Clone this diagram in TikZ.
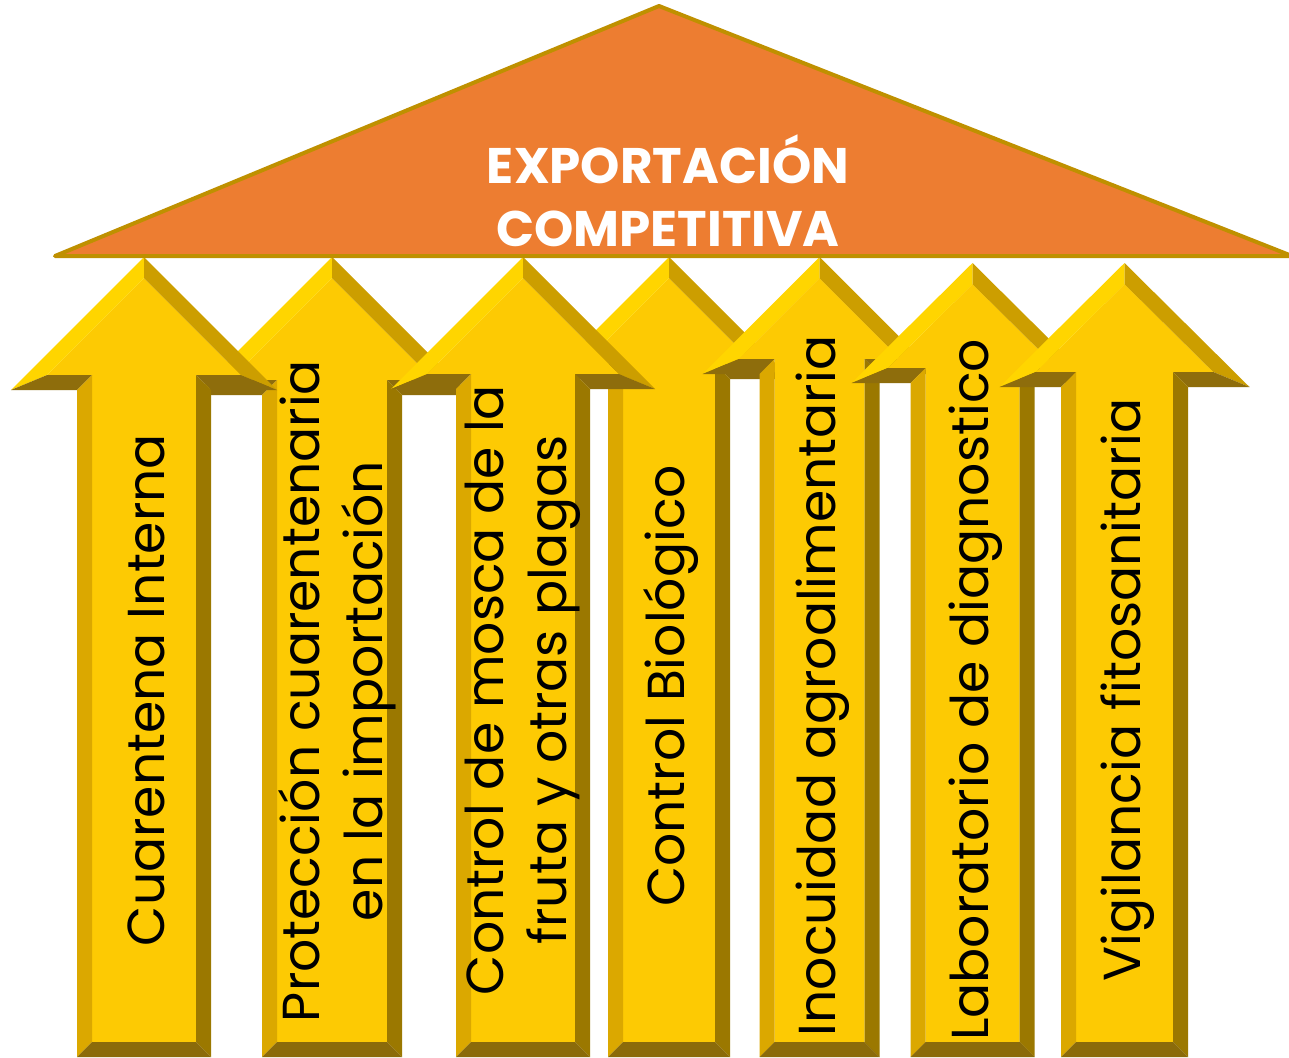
\documentclass[tikz,border=0pt]{standalone}
\usepackage{fontspec}
\newfontfamily\pop{Poppins}
\definecolor{roof}{HTML}{ED7D31}
\definecolor{roofline}{HTML}{BF9000}
\definecolor{aface}{HTML}{FDCA03}
\definecolor{ahl}{HTML}{FFD500}
\definecolor{ahr}{HTML}{CC9E00}
\definecolor{awing}{HTML}{8E6D0C}
\definecolor{asl}{HTML}{DBA800}
\definecolor{asr}{HTML}{9B7800}
\definecolor{abot}{HTML}{8B6B0A}
\newcommand\bevarrow[5]{%
\pgfmathsetmacro\xl{#1-#2}\pgfmathsetmacro\xr{#1+#2}%
\pgfmathsetmacro\hl{#1-#3}\pgfmathsetmacro\hr{#1+#3}%
\pgfmathsetmacro\ixl{#1-#2+15}\pgfmathsetmacro\ixr{#1+#2-15}%
\pgfmathsetmacro\ihl{#1-#3+36.2}\pgfmathsetmacro\ihr{#1+#3-36.2}%
\pgfmathsetmacro\it{#4+21.2}\pgfmathsetmacro\ib{#5-15}%
\fill[aface] (#1,\it) -- (\ihr,\ib) -- (\ixr,\ib) -- (\ixr,1042) -- (\ixl,1042) -- (\ixl,\ib) -- (\ihl,\ib) -- cycle;
\fill[ahl] (\hl,#5) -- (#1,#4) -- (#1,\it) -- (\ihl,\ib) -- cycle;
\fill[ahr] (#1,#4) -- (\hr,#5) -- (\ihr,\ib) -- (#1,\it) -- cycle;
\fill[awing] (\hl,#5) -- (\xl,#5) -- (\ixl,\ib) -- (\ihl,\ib) -- cycle;
\fill[awing] (\hr,#5) -- (\xr,#5) -- (\ixr,\ib) -- (\ihr,\ib) -- cycle;
\fill[asl] (\xl,#5) -- (\xl,1057) -- (\ixl,1042) -- (\ixl,\ib) -- cycle;
\fill[asr] (\xr,#5) -- (\xr,1057) -- (\ixr,1042) -- (\ixr,\ib) -- cycle;
\fill[abot] (\xl,1057) -- (\xr,1057) -- (\ixr,1042) -- (\ixl,1042) -- cycle;
}
\tikzset{
  lbl/.style={rotate=90, font=\pop\fontsize{52}{63}\selectfont, text=black, align=center, inner sep=0pt},
  ttl/.style={font=\pop\bfseries\fontsize{50}{63}\selectfont, text=white, align=center, inner sep=0pt}
}
\begin{document}
\begin{tikzpicture}[x=1pt,y=-1pt]
\useasboundingbox (0,0) rectangle (1289,1057);
\fill[white] (0,0) rectangle (1289,1057);
% arrows (drawing order for overlaps)
\bevarrow{332}{70}{138}{257}{395}
\bevarrow{669}{61}{122}{257}{379}
\bevarrow{144}{67}{133}{257}{390}
\bevarrow{523}{67}{132}{257}{389}
\bevarrow{819.5}{60}{117}{257}{374}
\bevarrow{972.5}{62}{121}{263}{383}
\bevarrow{1124.5}{63.5}{125}{263}{387}
% roof
\draw[roofline, fill=roof, line width=4pt, line join=round, line cap=round] (55,256) -- (659,6) -- (1292,256) -- cycle;
\node[ttl] (title) at (668,191) {EXPORTACIÓN\\COMPETITIVA};
% labels
\node[lbl] (t1) at (146,690) {Cuarentena Interna};
\node[lbl] (t2) at (337,691) {Protección cuarentenaria\\en la importación};
\node[lbl] (t3) at (523,690) {Control de mosca de la\\fruta y otras plagas};
\node[lbl] (t4) at (671,686) {Control Biológico};
\node[lbl] (t5) at (823,686) {Inocuidad agroalimentaria};
\node[lbl] (t6) at (976,690) {Laboratorio de diagnostico};
\node[lbl] (t7) at (1128,690) {Vigilancia fitosanitaria};
\end{tikzpicture}
\end{document}
